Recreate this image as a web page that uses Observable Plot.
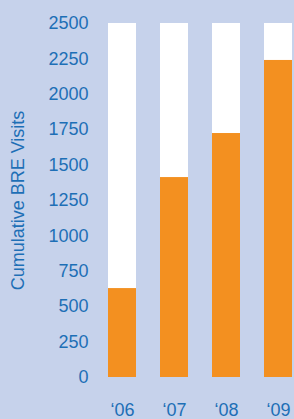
<!DOCTYPE html>
<html>
<head>
<meta charset="utf-8">
<script src="https://cdn.jsdelivr.net/npm/d3@7"></script>
<script src="https://cdn.jsdelivr.net/npm/@observablehq/plot@0.6"></script>
<style>
  html, body { margin: 0; padding: 0; background: #c6d2eb; }
  #chart svg { display: block; }
</style>
</head>
<body>
<div id="chart"></div>
<script>
const years = ["\u201806", "\u201807", "\u201808", "\u201809"];
const visits = [628, 1412, 1723, 2239];
const capacity = [2500, 2500, 2500, 2500];
const yTicks = [0, 250, 500, 750, 1000, 1250, 1500, 1750, 2000, 2250, 2500];
const yTitle = "Cumulative BRE Visits";

const data = years.map((y, i) => ({year: y, visits: visits[i], cap: capacity[i]}));

const blue = "#1d6fb6";
const chart = Plot.plot({
  width: 294,
  height: 419,
  marginLeft: 108,
  marginRight: 0,
  marginTop: 23,
  marginBottom: 42,
  style: {background: "#c6d2eb", color: blue, fontFamily: "'Liberation Sans', Arial, sans-serif", fontSize: "18px"},
  x: {domain: years, paddingInner: 0.468, paddingOuter: 0, align: 0},
  y: {domain: [0, 2500]},
  marks: [
    Plot.barY(data, {x: "year", y1: 0, y2: "cap", fill: "white"}),
    Plot.barY(data, {x: "year", y1: 0, y2: "visits", fill: "#f39020"}),
    Plot.axisY({ticks: yTicks, tickFormat: d3.format("d"), tickSize: 0, tickPadding: 20, fill: blue, label: yTitle, labelAnchor: "center", labelArrow: "none", labelOffset: 97}),
    Plot.axisX({tickSize: 0, tickPadding: 26, fill: blue, label: null})
  ]
});
document.getElementById("chart").appendChild(chart);
</script>
</body>
</html>
